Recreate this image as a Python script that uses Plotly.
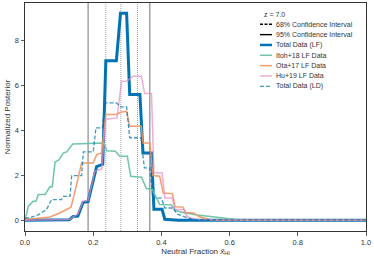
import plotly.graph_objects as go

# ---------------- data ----------------
redshift_label = "z = 7.0"
ci95 = [0.185, 0.366]          # 95% confidence interval bounds
ci68 = [0.237, 0.330]          # 68% confidence interval bounds
median = 0.281

lf_total_x = [0.0, 0.13, 0.14, 0.155, 0.17, 0.185, 0.21, 0.228, 0.237, 0.268, 0.28, 0.298, 0.307,
              0.337, 0.346, 0.371, 0.378, 0.402, 0.41, 0.45, 1.0]
lf_total_y = [0.02, 0.04, 0.18, 0.2, 0.8, 0.85, 2.4, 2.5, 7.1, 7.1, 9.2, 9.2, 5.6,
              5.6, 3.0, 3.0, 0.5, 0.5, 0.06, 0.02, 0.02]

itoh_x = [0.0, 0.01, 0.024, 0.032, 0.039, 0.059, 0.073, 0.08, 0.088, 0.1, 0.112, 0.122, 0.14, 0.17,
          0.2, 0.232, 0.24, 0.265, 0.278, 0.3, 0.31, 0.342, 0.356, 0.372, 0.395, 0.43, 0.44, 0.47,
          0.505, 0.57, 0.62, 0.66, 1.0]
itoh_y = [0.0, 0.64, 0.86, 0.86, 1.16, 1.16, 1.5, 1.5, 2.6, 2.7, 3.0, 3.05, 3.4, 3.42,
          3.45, 3.45, 3.1, 3.08, 2.86, 2.86, 1.97, 1.93, 1.41, 1.41, 0.72, 0.7, 0.45, 0.34,
          0.25, 0.12, 0.05, 0.02, 0.02]

ota_x = [0.0, 0.03, 0.073, 0.1, 0.122, 0.135, 0.15, 0.156, 0.166, 0.2, 0.21, 0.225, 0.237, 0.268,
         0.28, 0.298, 0.307, 0.341, 0.346, 0.366, 0.375, 0.395, 0.405, 0.432, 0.44, 0.463, 0.472,
         0.495, 0.51, 0.54, 0.56, 1.0]
ota_y = [0.05, 0.1, 0.16, 0.33, 0.49, 0.6, 1.52, 1.97, 2.56, 2.56, 2.93, 3.0, 4.71, 4.71,
         4.81, 4.85, 4.19, 4.19, 3.45, 3.45, 2.0, 1.97, 1.23, 1.2, 0.62, 0.6, 0.36,
         0.34, 0.18, 0.05, 0.02, 0.02]

hu_x = [0.0, 0.13, 0.155, 0.17, 0.185, 0.205, 0.225, 0.237, 0.27, 0.283, 0.3, 0.317, 0.341, 0.351,
        0.371, 0.378, 0.402, 0.41, 0.432, 0.44, 0.465, 0.475, 0.5, 1.0]
hu_y = [0.02, 0.05, 0.3, 0.85, 0.9, 2.2, 2.3, 4.5, 4.56, 6.19, 6.2, 6.41, 6.41, 5.64,
        5.64, 2.12, 2.12, 1.0, 1.0, 0.49, 0.49, 0.19, 0.05, 0.02]

ld_total_x = [0.0, 0.02, 0.04, 0.063, 0.078, 0.107, 0.112, 0.132, 0.137, 0.166, 0.171, 0.2, 0.208,
              0.227, 0.234, 0.268, 0.28, 0.298, 0.307, 0.34, 0.35, 0.366, 0.375, 0.4, 0.41, 0.435,
              0.445, 0.48, 0.5, 1.0]
ld_total_y = [0.1, 0.16, 0.27, 0.49, 0.93, 0.93, 1.08, 1.08, 2.0, 2.0, 3.05, 3.05, 4.12,
              4.12, 5.23, 5.23, 5.05, 5.05, 3.68, 3.68, 2.34, 2.34, 1.0, 1.0, 0.56, 0.56,
              0.3, 0.1, 0.04, 0.03]

legend_labels = ["68% Confidence Interval", "95% Confidence Interval", "Total Data (LF)",
                 "Itoh+18 LF Data", "Ota+17 LF Data", "Hu+19 LF Data", "Total Data (LD)"]

x_ticks = [0.0, 0.2, 0.4, 0.6, 0.8, 1.0]
y_ticks = [0, 2, 4, 6, 8]

# ---------------- styles ----------------
BLUE = "#0173b2"
styles = {
    "68% Confidence Interval": dict(color="black", width=1.4, dash="3px,1.5px"),
    "95% Confidence Interval": dict(color="black", width=1.4),
    "Total Data (LF)": dict(color=BLUE, width=3),
    "Itoh+18 LF Data": dict(color="rgba(102,194,165,0.95)", width=1.5),
    "Ota+17 LF Data": dict(color="rgba(245,145,95,0.9)", width=1.5),
    "Hu+19 LF Data": dict(color="rgba(231,138,195,0.7)", width=1.5),
    "Total Data (LD)": dict(color="rgba(1,115,178,0.75)", width=1.3, dash="4px,2px"),
}

FONT = "Liberation Sans, Arial, sans-serif"
TXT = "#333333"

fig = go.Figure()

series = [
    ("Total Data (LF)", lf_total_x, lf_total_y),
    ("Itoh+18 LF Data", itoh_x, itoh_y),
    ("Ota+17 LF Data", ota_x, ota_y),
    ("Hu+19 LF Data", hu_x, hu_y),
    ("Total Data (LD)", ld_total_x, ld_total_y),
]
for name, xs, ys in series:
    fig.add_trace(go.Scatter(x=xs, y=ys, mode="lines", name=name, line=styles[name],
                             showlegend=False, hoverinfo="skip"))

for v in ci95:
    fig.add_vline(x=v, line=dict(color="#8a8a8a", width=1.2), layer="below")
for v in ci68 + [median]:
    fig.add_vline(x=v, line=dict(color="#a0a0a0", width=1, dash="1px,1px"), layer="below")

# ---------------- manual legend ----------------
L, R, T, B = 25, 366, 3, 231
W, H = R - L, B - T

def px(xp):
    return (xp - L) / W

def py(yp):
    return (B - yp) / H

fig.add_annotation(x=px(274), y=py(14), xref="paper", yref="paper", text=redshift_label,
                   showarrow=False, xanchor="center", yanchor="middle",
                   font=dict(size=7, family=FONT, color=TXT))
for i, lab in enumerate(legend_labels):
    yy = py(24.3 + 10.33 * i)
    st = dict(styles[lab])
    st["width"] = min(st["width"], 2.5)
    fig.add_shape(type="line", xref="paper", yref="paper", x0=px(260), x1=px(272),
                  y0=yy, y1=yy, line=st)
    fig.add_annotation(x=px(274), y=yy, xref="paper", yref="paper", text=lab,
                       showarrow=False, xanchor="left", yanchor="middle",
                       font=dict(size=7, family=FONT, color=TXT))

axis_common = dict(showline=True, linecolor="#333333", linewidth=1, mirror=True,
                   ticks="outside", ticklen=3.5, tickwidth=0.8, tickcolor="#333333",
                   showgrid=False, zeroline=False,
                   tickfont=dict(size=7.5, family=FONT, color=TXT))

fig.update_layout(
    width=374, height=260,
    margin=dict(l=L, r=374 - R, t=T, b=260 - B),
    plot_bgcolor="white", paper_bgcolor="white",
    showlegend=False,
    font=dict(family=FONT, color=TXT),
    xaxis=dict(range=[0, 1], tickvals=x_ticks, ticktext=[f"{t:.1f}" for t in x_ticks],
               title=dict(text="Neutral Fraction <i>x\u0304</i><sub>HI</sub>", standoff=2,
                          font=dict(size=8, family=FONT, color=TXT)),
               automargin=False, **axis_common),
    yaxis=dict(range=[-0.46, 9.66], tickvals=y_ticks, ticktext=[str(t) for t in y_ticks],
               title=dict(text="Normalized Posterior", standoff=3,
                          font=dict(size=8, family=FONT, color=TXT)),
               automargin=False, **axis_common),
)

fig.write_html("out.html",
               config={"displayModeBar": False, "staticPlot": True},
               post_script="document.body.style.margin='0';document.body.style.overflow='hidden';")
